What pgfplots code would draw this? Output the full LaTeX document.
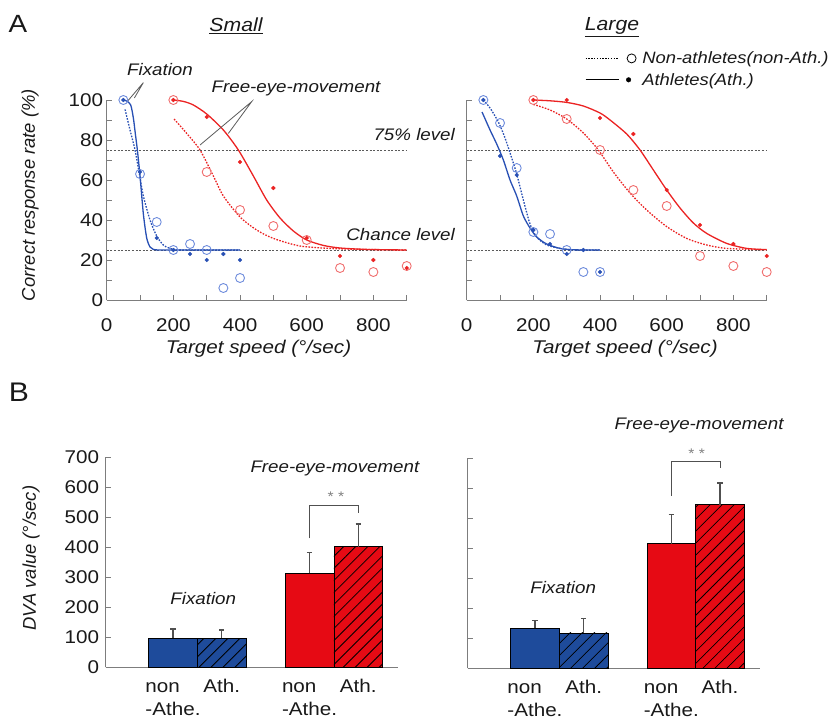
\documentclass[border=0pt]{standalone}
\usepackage{pgfplots}
\pgfplotsset{compat=1.18}
\usetikzlibrary{patterns.meta}
\usepackage{fontspec}
\setmainfont{Liberation Sans}[FakeStretch=1.12]
\newfontfamily\rotfont{Liberation Sans}

\definecolor{blueL}{RGB}{40,80,180}
\definecolor{blueC}{RGB}{110,140,220}
\definecolor{redL}{RGB}{235,35,35}
\definecolor{redC}{RGB}{240,110,110}
\definecolor{blueBar}{RGB}{30,75,155}
\definecolor{redBar}{RGB}{230,10,20}
\definecolor{axgray}{RGB}{125,125,125}
\definecolor{refgray}{RGB}{90,90,90}
\definecolor{errgray}{RGB}{80,80,80}
\definecolor{txt}{RGB}{25,25,25}

\newcommand{\tfont}{\fontsize{18.5}{23}\selectfont}
\newcommand{\afont}{\fontsize{16.8}{20}\selectfont\itshape}

\pgfplotsset{
  base/.style={scale only axis, anchor=south west,
    axis x line*=bottom, axis y line*=left,
    axis line style={draw=axgray, line width=1bp},
    tick style={draw=axgray, line width=0.9bp},
    major tick length=5bp, tick align=inside,
    tick label style={font=\tfont, text=txt},
    /pgf/number format/assume math mode=true,
    clip=false},
  Aaxis/.style={base, width=300bp, height=200bp,
    xmin=0, xmax=900, ymin=0, ymax=100,
    xtick={0,100,...,900}, xticklabels={0,,200,,400,,600,,800,},
    ytick={0,10,...,100},
    xticklabel style={yshift=-15bp}},
  Baxis/.style={base, height=210bp, xmin=0, xmax=6, ymin=0, ymax=700,
    ytick={0,100,...,700},
    xtick={1.38,2.38,4.18,5.18},
    xticklabels={{\strut non\\-Athe.},{\strut Ath.},{\strut non\\-Athe.},{\strut Ath.}},
    xticklabel style={align=left, anchor=north, yshift=-8bp, inner ysep=1bp},
    xtick style={draw=none},
    yticklabel style={xshift=-3bp}},
  refline/.style={refgray, line width=1bp, dash pattern=on 2bp off 1.6bp, forget plot},
  solidB/.style={blueL, line width=1.3bp, smooth, tension=0.45},
  dotB/.style={blueL, line width=1.3bp, smooth, tension=0.45, dash pattern=on 1.6bp off 1.4bp},
  solidR/.style={redL, line width=1.3bp, smooth, tension=0.45},
  dotR/.style={redL, line width=1.3bp, smooth, tension=0.45, dash pattern=on 1.6bp off 1.4bp},
  circB/.style={only marks, mark=o, mark size=4.5bp, mark options={draw=blueC, line width=0.9bp}},
  circR/.style={only marks, mark=o, mark size=4.5bp, mark options={draw=redC, line width=0.9bp}},
  dotsB/.style={only marks, mark=*, mark size=1.9bp, mark options={fill=blueL, draw=blueL}},
  dotsR/.style={only marks, mark=*, mark size=1.9bp, mark options={fill=redL, draw=redL}},
  barS/.style={ybar, bar width=1, bar shift=0pt, draw=black, line width=0.7bp,
    error bars/.cd, y dir=plus, y explicit,
    error bar style={draw=errgray, line width=1.3bp},
    error mark options={rotate=90, draw=errgray, line width=1.3bp, mark size=2.6bp},
    /pgfplots/.cd},
  hatch/.style={postaction={pattern={Lines[angle=45,distance=8.5bp,line width=0.8bp]}}},
}

\begin{document}
\begin{tikzpicture}
\path[use as bounding box] (0,0) rectangle (829bp,-722bp);

% ---------- Panel A, Small ----------
\begin{axis}[Aaxis, at={(106.7bp,-300bp)},
  yticklabels={0,,20,,40,,60,,80,,100}]
\addplot[refline] coordinates {(0,75) (900,75)};
\addplot[refline] coordinates {(0,25) (900,25)};
\addplot[solidB] coordinates {(48,100)(60,99.5)(72,97.5)(80,91)(86,83)(92,75)(100,62)(110,43)(120,31)(130,26.5)(140,25.3)(160,25)(250,25)(400,25)};
\addplot[dotB] coordinates {(55,95.3)(70,85)(85,75)(98,63)(110,52)(130,40)(150,32)(170,27.5)(190,25.8)(230,25)(400,25)};
\addplot[solidR] coordinates {(200,100)(230,99.3)(260,97.5)(300,93)(350,85)(395,75)(440,62)(480,50)(520,41)(560,34.5)(600,30)(650,27.3)(700,26)(780,25.3)(900,25)};
\addplot[dotR] coordinates {(202,90.5)(240,83.3)(280,75)(320,62)(350,52)(400,41.5)(450,35)(500,30.8)(580,27)(680,25.7)(800,25.2)(900,25)};
\addplot[circB] coordinates {(50,100)(100,63)(150,39)(200,25)(250,28)(300,25)(350,6)(400,11)};
\addplot[dotsB] coordinates {(50,100)(100,64)(150,31)(200,25)(250,23)(300,20)(350,23)(400,20)};
\addplot[circR] coordinates {(200,100)(300,64)(400,45)(500,37)(600,30)(700,16)(800,14)(900,17)};
\addplot[dotsR] coordinates {(200,100)(300,91.5)(400,69)(500,56)(600,31)(700,22)(800,20)(900,16)};
% annotations
\node[font=\afont, text=txt] at (axis cs:160,115) {Fixation};
\draw[refgray, line width=0.8bp] (axis cs:63,99.5) -- (axis cs:110,108.7) -- (axis cs:83,101);
\node[font=\afont, text=txt] at (axis cs:568,106) {Free-eye-movement};
\draw[refgray, line width=0.8bp] (axis cs:280,77.5) -- (axis cs:435,99.2) -- (axis cs:365,83.3);
\node[font=\afont, text=txt, anchor=east, inner sep=0pt] at (axis cs:1045,82.5) {75\% level};
\node[font=\afont, text=txt, anchor=east, inner sep=0pt] at (axis cs:1045,32.5) {Chance level};
\end{axis}

% ---------- Panel A, Large ----------
\begin{axis}[Aaxis, at={(466.7bp,-300bp)}, yticklabels={},
  legend style={at={(0.394,1.25)}, anchor=north west, draw=none, fill=none,
    inner sep=0pt, row sep=5bp, font=\fontsize{16.5}{19}\selectfont\itshape,
    nodes={inner sep=1.5bp, text=txt}},
  legend cell align=left]
\addplot[refline] coordinates {(0,75) (900,75)};
\addplot[refline] coordinates {(0,25) (900,25)};
\addplot[solidB, forget plot] coordinates {(46,94)(70,85)(90,78)(110,70)(130,60)(150,52)(170,42)(190,36)(210,31.5)(240,28)(280,25.8)(320,25.1)(400,25)};
\addplot[dotB, forget plot] coordinates {(50,100)(70,96)(95,89)(115,81)(135,71)(150,63)(170,50)(190,38)(210,31.5)(240,27.5)(280,25.8)(320,25.1)(400,25)};
\addplot[solidR, forget plot] coordinates {(200,100)(250,99.6)(300,98.8)(350,97)(400,93.5)(430,90)(480,83)(520,75)(560,65)(600,55)(640,46)(680,38.5)(720,33.3)(780,28.3)(840,25.8)(900,25.2)};
\addplot[dotR, forget plot] coordinates {(200,97.8)(250,95)(300,90.5)(350,83.5)(395,75)(440,64)(490,53.5)(540,45)(600,36.7)(660,30.8)(720,27.5)(780,25.8)(900,25.1)};
\addplot[circB, forget plot] coordinates {(50,100)(100,88.5)(150,66)(200,34)(250,33)(300,25)(350,14)(400,14)};
\addplot[dotsB, forget plot] coordinates {(50,100)(100,72)(150,62.5)(200,35)(250,28)(300,23)(350,25)(400,14)};
\addplot[circR, forget plot] coordinates {(200,100)(300,90.5)(400,75)(500,55)(600,47)(700,22)(800,17)(900,14)};
\addplot[dotsR, forget plot] coordinates {(200,100)(300,100)(400,91)(500,83)(600,55)(700,37.5)(800,28)(900,22)};
\addlegendimage{legend image code/.code={
  \draw[black, line width=0.9bp, dash pattern=on 1.4bp off 1.4bp] (0bp,0bp) -- (33bp,0bp);
  \draw[black, line width=0.8bp] (46bp,0bp) circle (4.5bp);
  \path (55bp,0bp);}}
\addlegendentry{Non-athletes(non-Ath.)}
\addlegendimage{legend image code/.code={
  \draw[black, line width=1bp] (0bp,0bp) -- (33bp,0bp);
  \fill[black] (43bp,0bp) circle (2.3bp);
  \path (55bp,0bp);}}
\addlegendentry{Athletes(Ath.)}
\end{axis}

% ---------- Panel B, Small ----------
\begin{axis}[Baxis, at={(105.7bp,-667.3bp)}, width=292.6bp]
\addplot[barS, fill=blueBar] coordinates {(1.38,97) +- (0,31)};
\addplot[barS, fill=blueBar, hatch] coordinates {(2.38,97) +- (0,27)};
\addplot[barS, fill=redBar] coordinates {(4.18,313) +- (0,70)};
\addplot[barS, fill=redBar, hatch] coordinates {(5.18,402) +- (0,76)};
\draw[errgray, line width=1bp] (axis cs:4.18,430) -- (axis cs:4.18,541) -- (axis cs:5.18,541) -- (axis cs:5.18,515);
\node[font=\fontsize{14}{16}\selectfont, text=gray, anchor=base] at (axis cs:4.72,552) {* *};
\node[font=\afont, text=txt] at (axis cs:2.0,228) {Fixation};
\node[font=\afont, text=txt] at (axis cs:4.70,664) {Free-eye-movement};
\end{axis}

% ---------- Panel B, Large ----------
\begin{axis}[Baxis, at={(467.7bp,-668bp)}, width=292.3bp, yticklabels={}]
\addplot[barS, fill=blueBar] coordinates {(1.38,133) +- (0,26)};
\addplot[barS, fill=blueBar, hatch] coordinates {(2.38,117) +- (0,47)};
\addplot[barS, fill=redBar] coordinates {(4.18,414) +- (0,98)};
\addplot[barS, fill=redBar, hatch] coordinates {(5.18,544) +- (0,73)};
\draw[errgray, line width=1bp] (axis cs:4.18,574) -- (axis cs:4.18,689) -- (axis cs:5.18,689) -- (axis cs:5.18,667);
\node[font=\fontsize{14}{16}\selectfont, text=gray, anchor=base] at (axis cs:4.70,700) {* *};
\node[font=\afont, text=txt] at (axis cs:1.96,267) {Fixation};
\node[font=\afont, text=txt] at (axis cs:4.75,810) {Free-eye-movement};
\end{axis}

% ---------- titles and labels ----------
\node[font=\fontsize{25}{28}\selectfont, text=txt] at (18bp,-24bp) {A};
\node[font=\fontsize{27}{30}\selectfont, text=txt] at (19bp,-392bp) {B};
\node[font=\fontsize{19}{22}\selectfont\itshape, text=txt] at (236bp,-26bp) {\underline{Small}};
\node[font=\fontsize{19}{22}\selectfont\itshape, text=txt] at (612bp,-27bp) {\underline{Large}};
\node[font=\rotfont\fontsize{18.5}{22}\selectfont\itshape, text=txt, rotate=90] at (30bp,-195bp) {Correct response rate (\%)};
\node[font=\rotfont\fontsize{18.5}{22}\selectfont\itshape, text=txt, rotate=90] at (31bp,-558bp) {DVA value (°/sec)};
\node[font=\fontsize{18.5}{22}\selectfont\itshape, text=txt] at (258.5bp,-349bp) {Target speed (°/sec)};
\node[font=\fontsize{18.5}{22}\selectfont\itshape, text=txt] at (625bp,-349bp) {Target speed (°/sec)};
\end{tikzpicture}
\end{document}
